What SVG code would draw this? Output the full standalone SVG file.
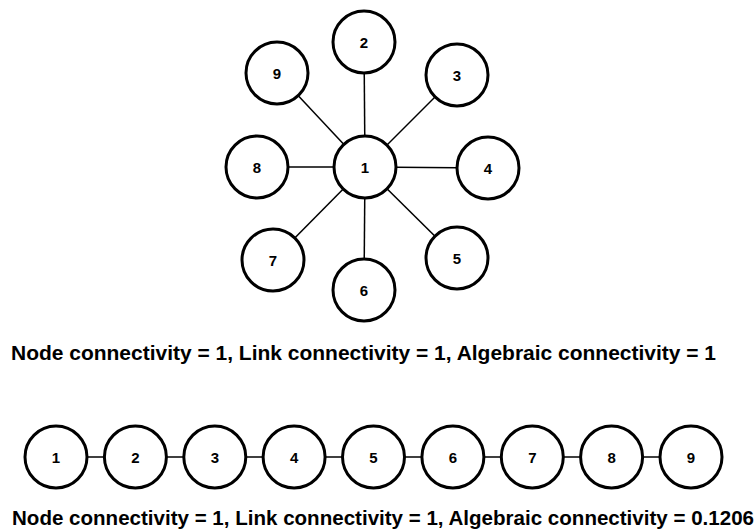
<svg xmlns="http://www.w3.org/2000/svg" width="756" height="529" viewBox="0 0 756 529">
<style>
.n circle{fill:#fff;stroke:#000;stroke-width:3}
.n text{font-family:"Liberation Sans",Arial,sans-serif;font-weight:bold;font-size:15px;text-anchor:middle;dominant-baseline:central;fill:#000}
.e line{stroke:#000;stroke-width:1.5}
.cap{font-family:"Liberation Sans",Arial,sans-serif;font-weight:bold;fill:#000}
</style>
<rect width="756" height="529" fill="#fff"/>
<g id="connectors" class="e">
<line x1="365" y1="167" x2="364" y2="42"/>
<line x1="365" y1="167" x2="457" y2="75"/>
<line x1="365" y1="167" x2="488" y2="168"/>
<line x1="365" y1="167" x2="457" y2="258"/>
<line x1="365" y1="167" x2="364" y2="290"/>
<line x1="365" y1="167" x2="273" y2="260"/>
<line x1="365" y1="167" x2="257" y2="167"/>
<line x1="365" y1="167" x2="277" y2="73"/>
<line x1="56" y1="457" x2="691" y2="457"/>
</g>
<g id="star-1" class="n"><circle cx="365" cy="167" r="31"/><text x="365" y="167">1</text></g>
<g id="star-2" class="n"><circle cx="364" cy="42" r="31"/><text x="364" y="42">2</text></g>
<g id="star-3" class="n"><circle cx="457" cy="75" r="31"/><text x="457" y="75">3</text></g>
<g id="star-4" class="n"><circle cx="488" cy="168" r="31"/><text x="488" y="168">4</text></g>
<g id="star-5" class="n"><circle cx="457" cy="258" r="31"/><text x="457" y="258">5</text></g>
<g id="star-6" class="n"><circle cx="364" cy="290" r="31"/><text x="364" y="290">6</text></g>
<g id="star-7" class="n"><circle cx="273" cy="260" r="31"/><text x="273" y="260">7</text></g>
<g id="star-8" class="n"><circle cx="257" cy="167" r="31"/><text x="257" y="167">8</text></g>
<g id="star-9" class="n"><circle cx="277" cy="73" r="31"/><text x="277" y="73">9</text></g>
<text class="cap" x="11" y="360" font-size="20" textLength="705" lengthAdjust="spacingAndGlyphs">Node connectivity = 1, Link connectivity = 1, Algebraic connectivity = 1</text>
<g id="chain-1" class="n"><circle cx="56" cy="457" r="31"/><text x="56" y="457">1</text></g>
<g id="chain-2" class="n"><circle cx="135.4" cy="457" r="31"/><text x="135.4" y="457">2</text></g>
<g id="chain-3" class="n"><circle cx="214.8" cy="457" r="31"/><text x="214.8" y="457">3</text></g>
<g id="chain-4" class="n"><circle cx="294.1" cy="457" r="31"/><text x="294.1" y="457">4</text></g>
<g id="chain-5" class="n"><circle cx="373.5" cy="457" r="31"/><text x="373.5" y="457">5</text></g>
<g id="chain-6" class="n"><circle cx="452.9" cy="457" r="31"/><text x="452.9" y="457">6</text></g>
<g id="chain-7" class="n"><circle cx="532.3" cy="457" r="31"/><text x="532.3" y="457">7</text></g>
<g id="chain-8" class="n"><circle cx="611.6" cy="457" r="31"/><text x="611.6" y="457">8</text></g>
<g id="chain-9" class="n"><circle cx="691" cy="457" r="31"/><text x="691" y="457">9</text></g>
<text class="cap" x="12" y="525" font-size="20.5" textLength="742" lengthAdjust="spacingAndGlyphs">Node connectivity = 1, Link connectivity = 1, Algebraic connectivity = 0.1206</text>
</svg>
